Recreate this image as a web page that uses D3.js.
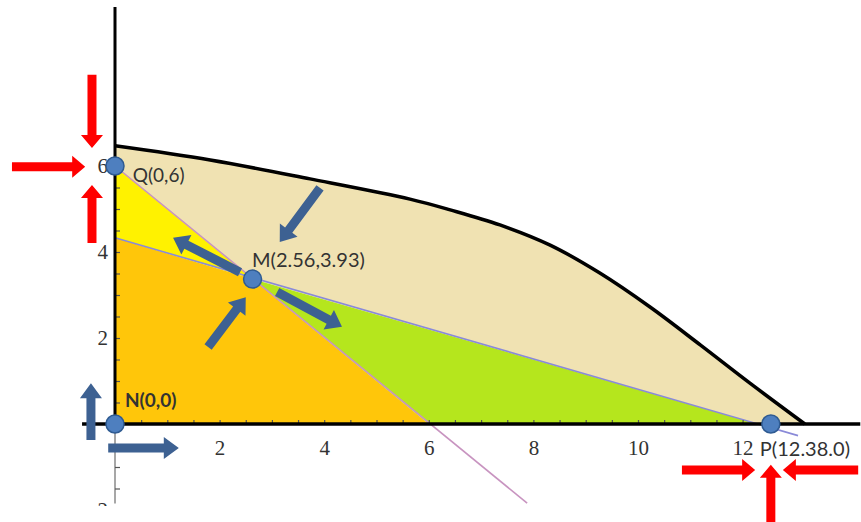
<!DOCTYPE html>
<html><head><meta charset="utf-8">
<script src="https://cdn.jsdelivr.net/npm/d3@7/dist/d3.min.js"></script>
<style>html,body{margin:0;padding:0;background:#fff;}svg{display:block;}</style>
</head><body>
<svg id="c" width="861" height="522"></svg>
<script>
// ---- data (chart units) ----
const curveX = [0, 1.82, 3.73, 5.64, 6.41, 7.36, 8.32, 9.27, 10.23, 11.19, 12.14, 13.19];
const curveY = [6.47, 6.14, 5.70, 5.23, 4.98, 4.63, 4.16, 3.51, 2.72, 1.84, 0.95, 0];
const pointQ = [0, 6];
const pointM = [2.63, 3.37];
const pointN = [0, 0];
const pointPdot = [12.54, 0];
const blueLineStart = [0, 4.33];
const blueLineAxis = [12.3, 0];
const blueLineEnd = [13.06, -0.27];
const pinkLineAxis = [6, 0];
const pinkLineEnd = [7.88, -1.84];
const xTickLabels = [2, 4, 6, 8, 10, 12];
const yTickLabels = [-2, 2, 4, 6];
const xMinorTicks = d3.range(1, 26).map(i => i * 0.5);
const yMinorTicks = [-1.5, -1, -0.5, 0.5, 1, 1.5, 2, 2.5, 3, 3.5, 4, 4.5, 5, 5.5, 6];
const pointLabels = [
  {text: "Q(0,6)", x: 0.34, y: 5.62, size: 19, weight: 400},
  {text: "M(2.56,3.93)", x: 2.62, y: 3.64, size: 20, weight: 400},
  {text: "N(0,0)", x: 0.19, y: 0.40, size: 19, weight: 700},
  {text: "P(12.38.0)", x: 12.33, y: -0.74, size: 20, weight: 400}
];
// arrows: [x1, y1, x2(tip), y2(tip)] in chart units
const redArrows = [
  [-0.44, 8.12, -0.44, 6.42],
  [-1.97, 5.98, -0.57, 5.98],
  [-0.44, 4.21, -0.44, 5.56],
  [10.84, -1.07, 12.24, -1.07],
  [14.21, -1.07, 12.77, -1.07],
  [12.54, -2.30, 12.54, -0.95]
];
const blueArrows = [
  [-0.46, -0.37, -0.46, 0.95],
  [-0.13, -0.56, 1.22, -0.56],
  [3.92, 5.49, 3.15, 4.23],
  [2.39, 3.53, 1.11, 4.33],
  [3.10, 3.07, 4.34, 2.26],
  [1.78, 1.79, 2.50, 2.95]
];

// ---- scales ----
const x = d3.scaleLinear().domain([0, 14]).range([115, 115 + 14 * 52.3]);
const y = d3.scaleLinear().domain([0, 6]).range([424, 166]);
const svg = d3.select("#c");
const P = p => [x(p[0]), y(p[1])];

svg.append("defs").append("clipPath").attr("id", "plotclip")
  .append("rect").attr("x", 0).attr("y", 0).attr("width", 861).attr("height", 506);
const g = svg.append("g").attr("clip-path", "url(#plotclip)");

const curvePts = curveX.map((v, i) => [v, curveY[i]]);
const lineGen = d3.line().x(d => x(d[0])).y(d => y(d[1])).curve(d3.curveCatmullRom.alpha(0.5));
const poly = pts => "M" + pts.map(p => P(p).join(",")).join("L") + "Z";

// tan region
const tanPath = lineGen(curvePts) + "L" + [blueLineAxis, pointM, pointQ].map(p => P(p).join(",")).join("L") + "Z";
g.append("path").attr("d", tanPath).attr("fill", "#F0E2B2");
// yellow
g.append("path").attr("d", poly([pointQ, pointM, blueLineStart])).attr("fill", "#FFF200");
// orange
g.append("path").attr("d", poly([pointN, blueLineStart, pointM, pinkLineAxis])).attr("fill", "#FFC60A");
// green
g.append("path").attr("d", poly([pointM, pinkLineAxis, blueLineAxis])).attr("fill", "#B5E61D");

// lines
g.append("line").attr("x1", x(pointQ[0])).attr("y1", y(pointQ[1])).attr("x2", x(pinkLineEnd[0])).attr("y2", y(pinkLineEnd[1]))
  .attr("stroke", "#C894C0").attr("stroke-width", 1.6);
g.append("line").attr("x1", x(blueLineStart[0])).attr("y1", y(blueLineStart[1])).attr("x2", x(blueLineEnd[0])).attr("y2", y(blueLineEnd[1]))
  .attr("stroke", "#8A8AD8").attr("stroke-width", 1.6);

// y-axis lower gray part
g.append("line").attr("x1", x(0)).attr("x2", x(0)).attr("y1", y(0)).attr("y2", y(-1.85))
  .attr("stroke", "#8a8a8a").attr("stroke-width", 1.5);

// minor ticks
const xt = g.append("g").attr("transform", `translate(0,${y(0)})`)
  .call(d3.axisBottom(x).tickValues(xMinorTicks).tickSize(-4).tickFormat(""));
xt.select(".domain").remove();
xt.selectAll("line").attr("stroke", "#555").attr("stroke-width", 1.2);
const yt = g.append("g").attr("transform", `translate(${x(0)},0)`)
  .call(d3.axisRight(y).tickValues(yMinorTicks).tickSize(5).tickFormat(""));
yt.select(".domain").remove();
yt.selectAll("line").attr("stroke", "#555").attr("stroke-width", 1.2);

// tick labels
const xl = g.append("g").attr("transform", `translate(0,${y(0)})`)
  .call(d3.axisBottom(x).tickValues(xTickLabels).tickSize(0).tickPadding(16));
xl.select(".domain").remove();
xl.selectAll("text").attr("font-family", "Liberation Serif").attr("font-size", 21).attr("fill", "#333");
const yl = g.append("g").attr("transform", `translate(${x(0)},0)`)
  .call(d3.axisLeft(y).tickValues(yTickLabels).tickSize(0).tickPadding(7).tickFormat(d => d < 0 ? "\u2212" + Math.abs(d) : d));
yl.select(".domain").remove();
yl.selectAll("text").attr("font-family", "Liberation Serif").attr("font-size", 21).attr("fill", "#333");

// main axes (black)
g.append("line").attr("x1", x(-0.63)).attr("x2", x(14.25)).attr("y1", y(0)).attr("y2", y(0))
  .attr("stroke", "#000").attr("stroke-width", 3.5);
g.append("line").attr("x1", x(0)).attr("x2", x(0)).attr("y1", y(0)).attr("y2", y(9.7))
  .attr("stroke", "#000").attr("stroke-width", 3);

// curve
g.append("path").attr("d", lineGen(curvePts)).attr("fill", "none").attr("stroke", "#000").attr("stroke-width", 3.5);

// dots
svg.selectAll("circle.pt").data([pointQ, pointM, pointN, pointPdot]).join("circle")
  .attr("cx", d => x(d[0])).attr("cy", d => y(d[1])).attr("r", 9)
  .attr("fill", "#4E7FBF").attr("stroke", "#2F5B92").attr("stroke-width", 1.5);

// labels
svg.selectAll("text.lab").data(pointLabels).join("text")
  .attr("x", d => x(d.x)).attr("y", d => y(d.y))
  .attr("font-family", "Lato").attr("font-size", d => d.size).attr("font-weight", d => d.weight)
  .attr("fill", "#333").text(d => d.text);

// arrows
function arrowPath(a, shaft, headW, headL) {
  const x1 = x(a[0]), y1 = y(a[1]), x2 = x(a[2]), y2 = y(a[3]);
  const dx = x2 - x1, dy = y2 - y1, L = Math.hypot(dx, dy);
  const ux = dx / L, uy = dy / L, nx = -uy, ny = ux;
  const bx = x2 - ux * headL, by = y2 - uy * headL;
  const pts = [
    [x1 + nx * shaft / 2, y1 + ny * shaft / 2],
    [bx + nx * shaft / 2, by + ny * shaft / 2],
    [bx + nx * headW / 2, by + ny * headW / 2],
    [x2, y2],
    [bx - nx * headW / 2, by - ny * headW / 2],
    [bx - nx * shaft / 2, by - ny * shaft / 2],
    [x1 - nx * shaft / 2, y1 - ny * shaft / 2]
  ];
  return "M" + pts.map(p => p.join(",")).join("L") + "Z";
}
svg.selectAll("path.red").data(redArrows).join("path")
  .attr("d", d => arrowPath(d, 9, 22, 13)).attr("fill", "#FF0000");
svg.selectAll("path.blue").data(blueArrows).join("path")
  .attr("d", d => arrowPath(d, 9, 22, 15)).attr("fill", "#3D6192");
</script>
</body></html>
